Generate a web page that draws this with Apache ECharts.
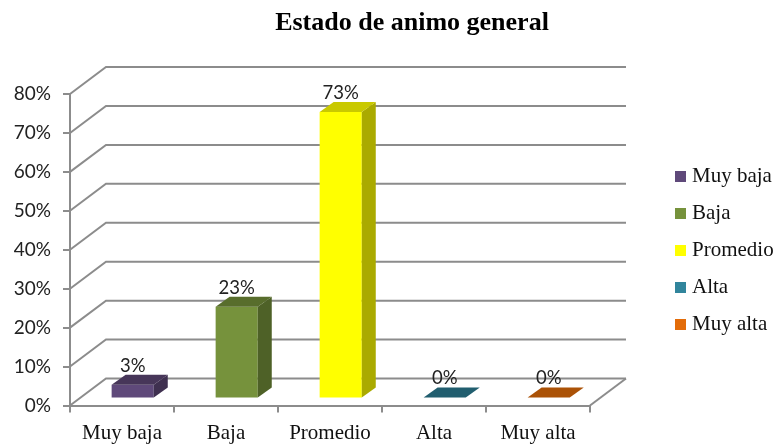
<!DOCTYPE html>
<html>
<head>
<meta charset="utf-8">
<style>html,body{margin:0;padding:0;background:#fff}#c{width:776px;height:444px}</style>
<script src="https://cdn.jsdelivr.net/npm/echarts@6/dist/echarts.min.js"></script>
</head>
<body>
<div id="c"></div>
<script>
var categories = ['Muy baja', 'Baja', 'Promedio', 'Alta', 'Muy alta'];
var values = [3.3, 23.3, 73.3, 0, 0];
var gridLevels = [0, 10, 20, 30, 40, 50, 60, 70, 80];
var frontColors = ['#5f497a', '#76923c', '#ffff00', '#31859c', '#e36c09'];
var topColors = ['#473659', '#586d2c', '#c9c900', '#215e6f', '#ab5207'];
var sideColors = ['#3f3050', '#4e6127', '#aaaa00', '#1d5060', '#934606'];

var DEPTH_X = 36, DEPTH_Y = -27, GRAY = '#8c8c8c';
var SHIFT_X = 10.7, SHIFT_Y = -8, BAR_DX = 14, BAR_DY = -10;
var serif = '"Liberation Serif", serif';

function poly(points, fill) {
  return { type: 'polygon', shape: { points: points }, style: { fill: fill, stroke: null } };
}

function renderGrid(params, api) {
  var p = api.coord([0, api.value(1)]);
  var r = params.coordSys;
  var x0 = r.x, x1 = r.x + r.width, y = p[1];
  var style = { stroke: GRAY, lineWidth: 2, fill: null };
  var children = [
    { type: 'polyline', shape: { points: [[x0, y], [x0 + DEPTH_X, y + DEPTH_Y], [x1 + DEPTH_X, y + DEPTH_Y]] }, style: style }
  ];
  if (api.value(1) === 0) {
    children.push({ type: 'line', shape: { x1: x1, y1: y, x2: x1 + DEPTH_X, y2: y + DEPTH_Y }, style: style });
  }
  return { type: 'group', children: children };
}

function makeRender(idx) {
  return function (params, api) {
    var top = api.coord([api.value(0), api.value(1)]);
    var base = api.coord([api.value(0), 0]);
    var w = api.size([1, 0])[0] * 0.405;
    var l = top[0] + SHIFT_X - w / 2, r = l + w;
    var b = base[1] + SHIFT_Y, t = top[1] + SHIFT_Y;
    var kids = [];
    if (t < b) {
      kids.push(poly([[l, t], [r, t], [r, b], [l, b]], frontColors[idx]));
      kids.push(poly([[r, t], [r + BAR_DX, t + BAR_DY], [r + BAR_DX, b + BAR_DY], [r, b]], sideColors[idx]));
    }
    kids.push(poly([[l, t], [r, t], [r + BAR_DX, t + BAR_DY], [l + BAR_DX, t + BAR_DY]], topColors[idx]));
    kids.push({
      type: 'text',
      style: {
        x: (l + r) / 2 + BAR_DX / 2 - 7, y: t + BAR_DY - 9,
        text: Math.round(api.value(1)) + '%',
        align: 'center', verticalAlign: 'middle',
        font: '18.5px Lato, sans-serif', fill: '#222'
      }
    });
    return { type: 'group', children: kids };
  };
}

var series = [{
  type: 'custom', name: 'grid', z: 1, silent: true,
  renderItem: renderGrid,
  encode: { x: 0, y: 1 },
  data: gridLevels.map(function (v) { return [0, v]; })
}];
categories.forEach(function (c, i) {
  series.push({
    type: 'custom', name: c, z: 3 + i,
    renderItem: makeRender(i),
    itemStyle: { color: frontColors[i] },
    encode: { x: 0, y: 1 },
    data: [[i, values[i]]]
  });
});

var chart = echarts.init(document.getElementById('c'));
chart.setOption({
  animation: false,
  backgroundColor: '#fff',
  title: {
    text: 'Estado de animo general', left: 407, top: 5, textAlign: 'center',
    textStyle: { fontFamily: serif, fontWeight: 'bold', fontSize: 26, color: '#000' }
  },
  legend: {
    data: categories, orient: 'vertical', left: 670, top: 161,
    icon: 'rect', itemWidth: 11, itemHeight: 11, itemGap: 16,
    selectedMode: false,
    textStyle: { fontFamily: serif, fontSize: 21, color: '#111', padding: [0, 0, 0, 1] }
  },
  grid: { left: 70, right: 186, top: 94, bottom: 38.5, containLabel: false },
  xAxis: {
    type: 'category', data: categories,
    axisLine: { show: true, lineStyle: { color: GRAY, width: 2 } },
    axisTick: { show: true, length: 7, lineStyle: { color: GRAY, width: 2 } },
    axisLabel: { fontFamily: serif, fontSize: 21, color: '#111', margin: 17, interval: 0 },
    splitLine: { show: false }
  },
  yAxis: {
    type: 'value', min: 0, max: 80, interval: 10,
    axisLine: { show: true, lineStyle: { color: GRAY, width: 2 } },
    axisTick: { show: true, length: 7, lineStyle: { color: GRAY, width: 2 } },
    axisLabel: { formatter: '{value}%', fontFamily: 'Lato, sans-serif', fontSize: 19, color: '#222', margin: 19, padding: [4, 0, 0, 0] },
    splitLine: { show: false }
  },
  series: series
});
</script>
</body>
</html>
